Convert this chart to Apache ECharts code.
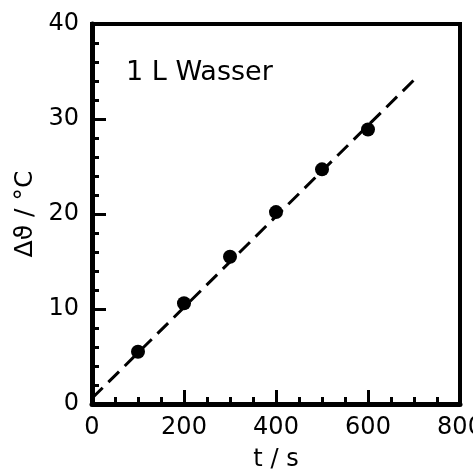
<!DOCTYPE html>
<html>
<head>
<meta charset="utf-8">
<script src="https://cdn.jsdelivr.net/npm/echarts@6/dist/echarts.min.js"></script>
<style>
html,body{margin:0;padding:0;background:#fff;}
#main{width:473px;height:472px;}
</style>
</head>
<body>
<div id="main"></div>
<script>
// measured points (t in s, temperature rise in °C)
var times = [100, 200, 300, 400, 500, 600];
var temps = [5.5, 10.6, 15.5, 20.2, 24.7, 28.9];
// fitted line, two end points
var fitT = [0, 705];
var fitY = [0.6, 34.35];
var xTicks = [0, 200, 400, 600, 800];
var yTicks = [0, 10, 20, 30, 40];

var FONT = 'DejaVu Sans';

function pairs(a, b){
    var out = [];
    for (var i = 0; i < a.length; i++) out.push([a[i], b[i]]);
    return out;
}

var myChart = echarts.init(document.getElementById('main'));
var option = {
    animation: false,
    backgroundColor: '#fff',
    grid: {
        left: 92, top: 24, right: 13, bottom: 68,
        containLabel: false,
        outerBoundsMode: 'none',
        show: true,
        borderColor: '#000',
        borderWidth: 4
    },
    graphic: [{
        type: 'text',
        left: 126,
        top: 59,
        style: {
            text: '1 L Wasser',
            font: '27px "DejaVu Sans"',
            fill: '#000'
        }
    }],
    xAxis: {
        type: 'value',
        min: xTicks[0],
        max: xTicks[xTicks.length - 1],
        interval: 200,
        name: 't / s',
        nameLocation: 'middle',
        nameGap: 44,
        nameTextStyle: {fontFamily: FONT, fontSize: 24, color: '#000'},
        axisLine: {show: true, onZero: false, lineStyle: {color: '#000', width: 5}},
        axisTick: {show: true, inside: true, length: 14, lineStyle: {color: '#000', width: 3}},
        minorTick: {show: true, splitNumber: 4, length: 7, lineStyle: {color: '#000', width: 3}},
        axisLabel: {fontFamily: FONT, fontSize: 24, color: '#000', margin: 12, hideOverlap: false},
        splitLine: {show: false}
    },
    yAxis: {
        type: 'value',
        min: yTicks[0],
        max: yTicks[yTicks.length - 1],
        interval: 10,
        name: 'Δϑ / °C',
        nameLocation: 'middle',
        nameGap: 54,
        nameTextStyle: {fontFamily: FONT, fontSize: 25, color: '#000'},
        axisLine: {show: true, onZero: false, lineStyle: {color: '#000', width: 5}},
        axisTick: {show: true, inside: true, length: 14, lineStyle: {color: '#000', width: 3}},
        minorTick: {show: true, splitNumber: 5, length: 7, lineStyle: {color: '#000', width: 3}},
        axisLabel: {fontFamily: FONT, fontSize: 24, color: '#000', margin: 13, hideOverlap: false},
        splitLine: {show: false}
    },
    series: [
        {
            type: 'line',
            data: pairs(fitT, fitY),
            symbol: 'none',
            lineStyle: {color: '#000', width: 3, type: [15, 8]},
            z: 2
        },
        {
            type: 'scatter',
            data: pairs(times, temps),
            symbol: 'circle',
            symbolSize: 14,
            itemStyle: {color: '#000', opacity: 1},
            z: 3
        }
    ]
};
myChart.setOption(option);
</script>
</body>
</html>
